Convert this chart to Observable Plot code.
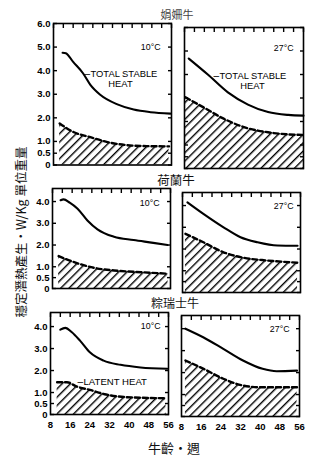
<!DOCTYPE html>
<html><head><meta charset="utf-8">
<script src="https://cdn.jsdelivr.net/npm/d3@7"></script>
<script src="https://cdn.jsdelivr.net/npm/@observablehq/plot@0.6"></script>
<style>
body{margin:0;background:#fff;}
#wrap{position:relative;width:333px;height:465px;overflow:hidden;background:#fff;}
#wrap svg{position:absolute;}
.cjk{position:absolute;font-family:"Noto Sans CJK TC","Noto Sans CJK SC",sans-serif;color:#111;white-space:nowrap;line-height:1;}
</style></head>
<body>
<svg width="0" height="0" style="position:absolute">
  <defs>
    <pattern id="hatch" patternUnits="userSpaceOnUse" width="5.9" height="5.9" patternTransform="rotate(45)">
      <line x1="0.7" y1="-1" x2="0.7" y2="7" stroke="#000" stroke-width="1.4"/>
    </pattern>
  </defs>
</svg>
<div id="wrap"></div>
<script>
// ---- data: [week, W/kg] ----
const jersey10Total  = [[11.7,4.76],[13,4.74],[16,4.37],[20,3.89],[23,3.4],[27,2.98],[34,2.57],[40.6,2.35],[47.5,2.24],[55.5,2.18]];
const jersey10Latent = [[10.5,1.76],[16.3,1.39],[23,1.18],[30,0.97],[38,0.84],[46,0.8],[55,0.79]];
const jersey27Total  = [[9.7,4.68],[17.4,4.0],[25.5,3.24],[33.6,2.72],[41.7,2.4],[49.8,2.28],[56,2.25]];
const jersey27Latent = [[8.4,3.03],[15.7,2.6],[23.8,2.12],[32,1.76],[41.7,1.54],[50,1.45],[56,1.43]];
const holstein10Total  = [[11.3,4.06],[12.5,4.1],[15,3.95],[18.2,3.67],[22.2,3.13],[26.3,2.72],[33,2.38],[41,2.23],[49,2.1],[54.8,2.0]];
const holstein10Latent = [[10.5,1.49],[16.8,1.21],[25,0.95],[33,0.83],[44,0.75],[55,0.68]];
const holstein27Total  = [[10,4.15],[16.5,3.62],[24.7,3.0],[31.6,2.54],[38.5,2.31],[46.6,2.16],[54.8,2.15]];
const holstein27Latent = [[9.2,2.7],[16.5,2.31],[24.7,1.85],[32.8,1.6],[42.6,1.47],[54.8,1.37]];
const swiss10Total  = [[12,3.86],[14,3.94],[16.7,3.74],[20,3.36],[24,2.83],[29.6,2.45],[36.5,2.26],[44.6,2.14],[55.5,2.08]];
const swiss10Latent = [[10.7,1.47],[14.7,1.47],[18.7,1.27],[24,1.12],[30.6,0.91],[38.7,0.79],[55,0.74]];
const swiss27Total  = [[9.6,4.0],[17,3.6],[25,3.08],[33,2.55],[41,2.17],[46.7,2.06],[55,2.09]];
const swiss27Latent = [[9.6,2.55],[17,2.17],[25,1.72],[33,1.41],[40,1.33],[55,1.33]];

const breeds = ["娟姍牛", "荷蘭牛", "粽瑞士牛"];
const temps = ["10°C", "27°C"];
const yTicksTop = [0, 0.5, 1, 2, 3, 4, 5, 6];
const yTicksLow = [0, 0.5, 1, 2, 3, 4];
const xTopTicks = d3.range(8, 57, 4);
const xLabels = [8, 16, 24, 32, 40, 48, 56];
const xTitle = "牛齡・週";
const yTitle = "穩定潛熱產生・W/Kg 單位重量";
const totalLabel = ["TOTAL STABLE", "HEAT"];
const latentLabel = "LATENT HEAT";

// ---- layout ----
const wrap = document.getElementById("wrap");
const fmt = d => d === 0 ? "0" : d.toFixed(1);
const blank = () => "";
const X = d => d[0], Y = d => d[1];
const FONT = "'Liberation Sans', Arial, sans-serif";

function panel(p) {
  const mL = p.left ? 30 : 4, mR = 4, mT = 4, mB = p.bottomAxis ? 24 : 4;
  const w = p.x1 - p.x0, h = p.bottom - p.top;
  const marks = [
    Plot.areaY(p.latent, {x: X, y: Y, fill: "url(#hatch)", curve: "monotone-x"}),
    Plot.line(p.latent, {x: X, y: Y, stroke: "#000", strokeWidth: 2.4, strokeDasharray: "5,3", curve: "monotone-x"}),
    Plot.line(p.total, {x: X, y: Y, stroke: "#000", strokeWidth: 2.1, curve: "monotone-x"}),
    Plot.frame({stroke: "#000", strokeWidth: 1.6}),
    Plot.axisY(p.yTicks, {anchor: "left", tickSize: -4, tickPadding: 7, strokeWidth: 1.4, tickFormat: p.left ? fmt : blank, fontSize: 9.5, fontWeight: 600, label: null}),
    Plot.axisY(p.yTicks, {anchor: "right", tickSize: -4, strokeWidth: 1.4, tickFormat: blank, label: null}),
    Plot.axisX(xTopTicks, {anchor: "top", tickSize: -4, strokeWidth: 1.4, tickFormat: blank, label: null}),
    Plot.text([p.temp], {frameAnchor: "top-right", textAnchor: "end", dx: p.tdx, dy: p.tdy, fontSize: 8.8, lineAnchor: "middle"})
  ];
  if (p.bottomAxis) marks.push(Plot.axisX(xLabels, {anchor: "bottom", tickSize: 0, tickPadding: 7, fontSize: 9.5, fontWeight: 600, label: null}));
  if (p.totalNote) {
    const n = p.totalNote;
    marks.push(Plot.text(["–"], {frameAnchor: "top-left", textAnchor: "end", dx: n.dx - 0.5, dy: n.dy, fontSize: 10, lineAnchor: "middle"}));
    marks.push(Plot.text([totalLabel[0]], {frameAnchor: "top-left", textAnchor: "start", dx: n.dx, dy: n.dy, fontSize: 9.4, lineAnchor: "middle"}));
    marks.push(Plot.text([totalLabel[1]], {frameAnchor: "top-left", textAnchor: "middle", dx: n.hx, dy: n.dy + 10, fontSize: 9.4, lineAnchor: "middle"}));
  }
  if (p.latentNote) {
    const n = p.latentNote;
    marks.push(Plot.text(["–"], {frameAnchor: "top-left", textAnchor: "end", dx: n.dx - 0.5, dy: n.dy, fontSize: 10, lineAnchor: "middle"}));
    marks.push(Plot.text([latentLabel], {frameAnchor: "top-left", textAnchor: "start", dx: n.dx, dy: n.dy, fontSize: 9.6, lineAnchor: "middle"}));
  }
  const svg = Plot.plot({
    width: mL + w + mR, height: mT + h + mB,
    marginLeft: mL, marginRight: mR, marginTop: mT, marginBottom: mB,
    x: {domain: [8, 56]},
    y: {domain: [0, p.ymax]},
    style: {background: "transparent", overflow: "visible", fontFamily: FONT, fontSize: "9px", color: "#000"},
    marks
  });
  svg.style.left = (p.x0 - mL) + "px";
  svg.style.top = (p.top - mT) + "px";
  wrap.appendChild(svg);
}

const panels = [
  {x0: 53, x1: 171, top: 23, bottom: 164.5, ymax: 6, yTicks: yTicksTop, left: true, total: jersey10Total, latent: jersey10Latent, temp: temps[0], tdx: -11, tdy: 24, totalNote: {dx: 37, dy: 50, hx: 67}},
  {x0: 184, x1: 303, top: 27, bottom: 168, ymax: 6, yTicks: yTicksTop, left: false, total: jersey27Total, latent: jersey27Latent, temp: temps[1], tdx: -10, tdy: 21, totalNote: {dx: 35, dy: 48, hx: 68}},
  {x0: 52, x1: 170, top: 188, bottom: 288, ymax: 4.6, yTicks: yTicksLow, left: true, total: holstein10Total, latent: holstein10Latent, temp: temps[0], tdx: -11, tdy: 15},
  {x0: 182, x1: 300, top: 192, bottom: 292, ymax: 4.6, yTicks: yTicksLow, left: false, total: holstein27Total, latent: holstein27Latent, temp: temps[1], tdx: -7, tdy: 14},
  {x0: 50, x1: 168, top: 312, bottom: 414, ymax: 4.64, yTicks: yTicksLow, left: true, bottomAxis: true, total: swiss10Total, latent: swiss10Latent, temp: temps[0], tdx: -8, tdy: 14, latentNote: {dx: 33, dy: 69}},
  {x0: 181, x1: 299, top: 315, bottom: 416, ymax: 4.6, yTicks: yTicksLow, left: false, bottomAxis: true, total: swiss27Total, latent: swiss27Latent, temp: temps[1], tdx: -10, tdy: 14}
];
panels.forEach(panel);

function label(text, cx, cy, size, color, extra) {
  const d = document.createElement("div");
  d.className = "cjk";
  d.textContent = text;
  d.style.fontSize = size + "px";
  d.style.color = color;
  d.style.left = cx + "px";
  d.style.top = cy + "px";
  d.style.transform = "translate(-50%,-50%)" + (extra || "");
  wrap.appendChild(d);
}
label(breeds[0], 177, 14, 11, "#444");
label(breeds[1], 176, 180, 12.5, "#111");
label(breeds[2], 175, 303, 12, "#111");
label(xTitle, 174, 447, 13, "#111");
label(yTitle, 21, 232, 12.5, "#111", " rotate(-90deg)");
</script>
</body></html>
